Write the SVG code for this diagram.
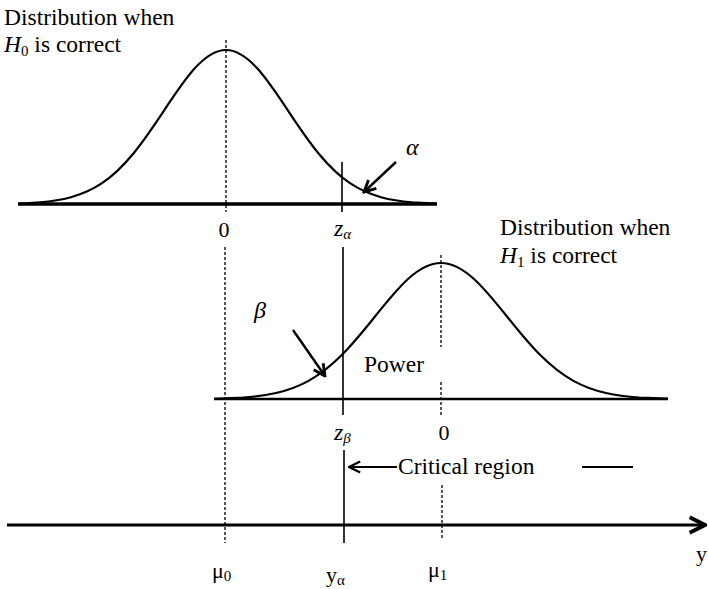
<svg xmlns="http://www.w3.org/2000/svg" width="708" height="589" viewBox="0 0 708 589" font-family="'Liberation Serif', 'Times New Roman', 'DejaVu Serif', serif">
<style>
text{font-family:"Liberation Serif","Times New Roman","DejaVu Serif",serif;fill:#000}
.big{font-size:23.5px}
.lbl{font-size:22px}
.zl{font-size:24px}
.it{font-style:italic}
.sub{font-size:15px}
.curve{fill:none;stroke:#000;stroke-width:2.2;stroke-linejoin:round}
.dash{stroke:#000;stroke-width:1.3;stroke-dasharray:3,2;fill:none}
.solid{stroke:#000;stroke-width:1.6;fill:none}
.arr{stroke:#000;stroke-width:2.4;fill:none}
</style>
<defs>
<marker id="ah" viewBox="0 0 10 10" refX="9" refY="5" markerWidth="6" markerHeight="6" orient="auto" markerUnits="strokeWidth">
<path d="M1,1 L9,5 L1,9" fill="none" stroke="#000" stroke-width="2"/>
</marker>
<marker id="ah2" viewBox="0 0 10 10" refX="9" refY="5" markerWidth="7" markerHeight="7" orient="auto" markerUnits="strokeWidth">
<path d="M1,1 L9,5 L1,9" fill="none" stroke="#000" stroke-width="1.6"/>
</marker>
</defs>
<g id="guides">
<line class="dash" x1="226" y1="40" x2="226" y2="212"/>
<line class="dash" x1="225" y1="247" x2="225" y2="543"/>
<line class="dash" x1="441" y1="255" x2="441" y2="347"/>
<line class="dash" x1="441" y1="382" x2="441" y2="415"/>
<line class="dash" x1="442" y1="485" x2="442" y2="540"/>
<line class="solid" x1="342" y1="162" x2="342" y2="212"/>
<line class="solid" x1="343" y1="247" x2="343" y2="415"/>
<line class="solid" x1="344" y1="450" x2="344" y2="543"/>
</g>
<g id="h0-dist">
<line x1="18" y1="204" x2="437" y2="204" stroke="#000" stroke-width="3.5"/>
<path class="curve" d="M18,203.8 L40,202.3 C50.33,201.45 60.67,200.02 71,197.2 C81.33,194.38 91.67,190.15 102,183.2 C112.33,176.25 122.67,166.5 133,154 C143.33,141.5 153.67,126.17 164,110.6 C174.33,95.03 184.67,79.43 195,68.1 C205.33,56.77 215.67,50 226,50 C236.33,50 246.67,56.77 257,68.1 C267.33,79.43 277.67,95.03 288,110.6 C298.33,126.17 308.67,141.5 319,154 C329.33,166.5 339.67,176.25 350,183.2 C360.33,190.15 370.67,194.38 381,197.2 C391.33,200.02 401.67,201.45 412,202.3 L437,203.6"/>
<text class="big" x="4" y="25">Distribution when</text>
<text class="big" x="4" y="52"><tspan class="it">H</tspan><tspan class="sub" dy="4">0</tspan><tspan dy="-4"> is correct</tspan></text>
<text class="lbl" x="224" y="237" text-anchor="middle">0</text>
<text class="zl" x="334" y="236"><tspan class="it">z</tspan><tspan class="sub it" dy="3">α</tspan></text>
</g>
<g id="alpha-label">
<text class="zl it" x="406" y="155">α</text>
</g>
<g id="h1-dist">
<line x1="214" y1="399" x2="668" y2="399" stroke="#000" stroke-width="2.6"/>
<path class="curve" d="M214,398.8 L243,397.5 C254,396.75 265,395.49 276,393 C287,390.51 298,386.74 309,380.6 C320,374.46 331,365.84 342,354.8 C353,343.76 364,330.25 375,316.5 C386,302.75 397,289 408,279 C419,269 430,263 441,263 C452,263 463,269 474,279 C485,289 496,302.75 507,316.5 C518,330.25 529,343.76 540,354.8 C551,365.84 562,374.46 573,380.6 C584,386.74 595,390.51 606,393 C617,395.49 628,396.75 639,397.5 L668,398.7"/>
<text class="big" x="500" y="235">Distribution when</text>
<text class="big" x="500" y="263"><tspan class="it">H</tspan><tspan class="sub" dy="4">1</tspan><tspan dy="-4"> is correct</tspan></text>
<text class="big" x="364" y="372">Power</text>
<text class="lbl" x="444" y="440" text-anchor="middle">0</text>
<text class="zl" x="334" y="440"><tspan class="it">z</tspan><tspan class="sub it" dy="3">β</tspan></text>
</g>
<g id="beta-label">
<text class="zl it" x="254" y="318">β</text>
</g>
<g id="critical-region">
<text class="big" x="398" y="474">Critical region</text>
<line x1="582" y1="467" x2="633" y2="467" stroke="#000" stroke-width="2"/>
</g>
<g id="axis-labels">
<text class="lbl" x="212" y="578">μ<tspan class="sub" dy="3">0</tspan></text>
<text class="lbl" x="326" y="582">y<tspan class="sub" dy="3">α</tspan></text>
<text class="lbl" x="428" y="577">μ<tspan class="sub" dy="3">1</tspan></text>
<text class="lbl" x="696" y="561">y</text>
</g>
<g id="connectors">
<line class="arr" x1="396" y1="162" x2="364" y2="192" marker-end="url(#ah)"/>
<line class="arr" x1="293" y1="330" x2="325" y2="376" marker-end="url(#ah)"/>
<line x1="397" y1="467" x2="349" y2="467" stroke="#000" stroke-width="2" marker-end="url(#ah2)"/>
<line x1="7" y1="525" x2="705" y2="525" stroke="#000" stroke-width="3.2" marker-end="url(#ah)"/>
</g>
</svg>
